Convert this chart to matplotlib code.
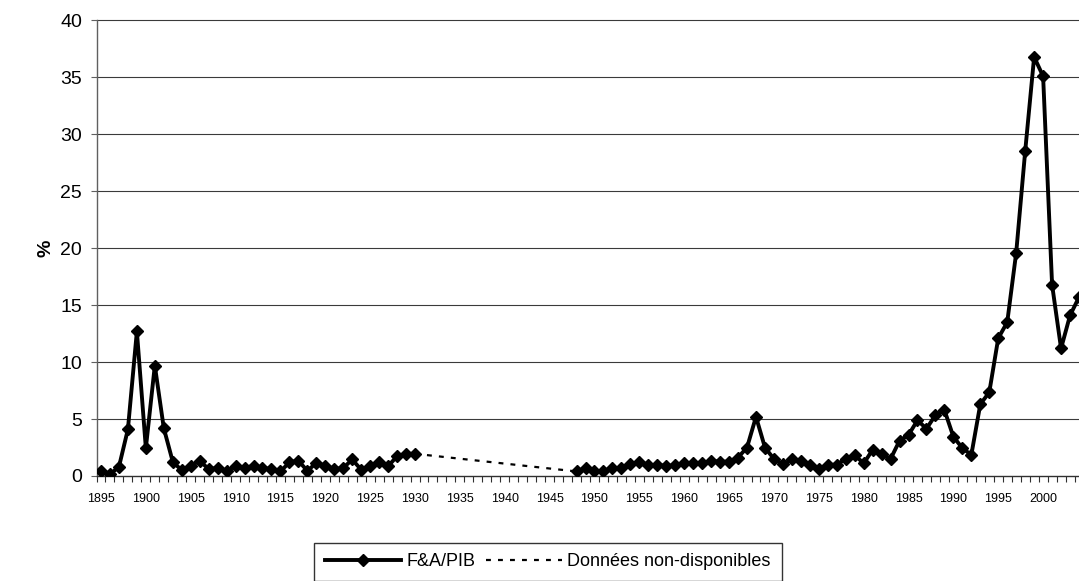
import numpy as np
import matplotlib
matplotlib.use("Agg")
import matplotlib.pyplot as plt
from matplotlib.lines import Line2D
from matplotlib.ticker import MultipleLocator, FixedLocator

plt.rcParams['font.family'] = ['Liberation Sans', 'DejaVu Sans']

# F&A / PIB (%), annual
years_early = list(range(1895, 1931))
vals_early = [0.4, 0.15, 0.8, 4.1, 12.7, 2.45, 9.7, 4.2, 1.25, 0.5,
              0.9, 1.35, 0.6, 0.7, 0.4, 0.9, 0.7, 0.9, 0.7, 0.6,
              0.4, 1.2, 1.35, 0.45, 1.15, 0.9, 0.6, 0.7, 1.45, 0.55,
              0.85, 1.25, 0.85, 1.75, 1.95, 1.95]

years_late = list(range(1948, 2005))
vals_late = [0.4, 0.68, 0.4, 0.4, 0.68, 0.68, 1.03, 1.24, 0.97, 0.97,
             0.88, 0.94, 1.12, 1.12, 1.12, 1.32, 1.26, 1.26, 1.62, 2.5,
             5.2, 2.5, 1.5, 1.03, 1.45, 1.3, 0.94, 0.65, 0.97, 1.0,
             1.5, 1.85, 1.1, 2.3, 1.9, 1.5, 3.1, 3.6, 4.9, 4.15,
             5.35, 5.8, 3.45, 2.45, 1.85, 6.3, 7.35, 12.1, 13.5, 19.6,
             28.5, 36.8, 35.1, 16.8, 11.2, 14.1, 15.7]

# no data between 1930 and 1948
years_gap = [years_early[-1], years_late[0]]
vals_gap = [vals_early[-1], vals_late[0]]

y_ticks = list(range(0, 41, 5))
x_labels = list(range(1895, 2001, 5))

fig = plt.figure(figsize=(10.79, 5.81), dpi=100)
ax = fig.add_axes([96.5 / 1079, 105 / 581, 1 - 96.5 / 1079, (476 - 20.5) / 581])

for yv in y_ticks[1:]:
    ax.axhline(yv, color='#3a3a3a', lw=0.8, zorder=1, clip_on=False)

gap_style = dict(color='black', lw=1.6, dashes=(2.2, 3.2))
ax.plot(years_gap, vals_gap, zorder=2, **gap_style)

style = dict(color='black', lw=2.8, marker='D', markersize=6.3,
             markerfacecolor='black', markeredgecolor='black')
ax.plot(years_early, vals_early, zorder=3, **style)
ax.plot(years_late, vals_late, zorder=3, **style)

ax.set_xlim(1894.5, 2004.0)
ax.set_ylim(0, 40)

for side in ['top', 'right']:
    ax.spines[side].set_visible(False)
ax.spines['left'].set_color('#606060')
ax.spines['bottom'].set_color('#303030')
ax.spines['left'].set_linewidth(1.0)
ax.spines['bottom'].set_linewidth(1.0)

ax.yaxis.set_major_locator(FixedLocator(y_ticks))
ax.tick_params(axis='y', length=4.5, width=0.8, color='#606060', pad=6,
               labelsize=14)

ax.xaxis.set_major_locator(FixedLocator(x_labels))
ax.xaxis.set_minor_locator(MultipleLocator(1, offset=0.5))
ax.tick_params(axis='x', which='major', length=0, pad=12, labelsize=9)
ax.tick_params(axis='x', which='minor', length=4.5, width=0.8, color='#303030')

ax.set_ylabel('%', fontsize=14, fontweight='bold', labelpad=4)

handles = [
    Line2D([], [], **style),
    Line2D([], [], **gap_style),
]
leg = fig.legend(handles, ['F&A/PIB', 'Données non-disponibles'],
                 loc='center', bbox_to_anchor=(548 / 1079, 1 - 562 / 581),
                 ncol=2, fontsize=13, frameon=True, fancybox=False,
                 handlelength=4.2, handletextpad=0.3, columnspacing=0.6,
                 borderpad=0.6, borderaxespad=0)
leg.get_frame().set_edgecolor('black')
leg.get_frame().set_linewidth(1.0)

fig.savefig('out.png', dpi=100)
